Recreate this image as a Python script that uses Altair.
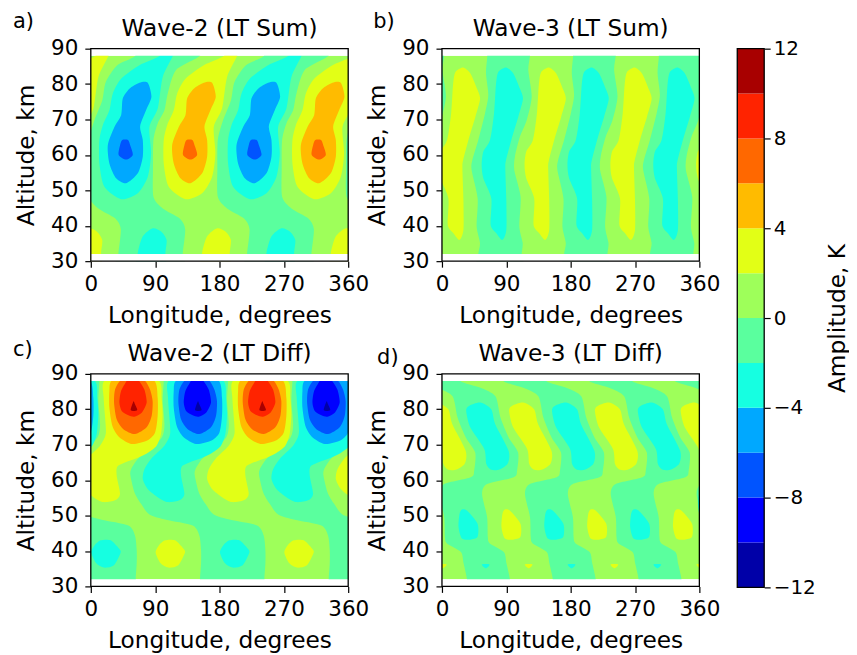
import altair as alt
import pandas as pd

alt.data_transformers.disable_max_rows()

FONT = "DejaVu Sans"
BANDS = ["m12", "m10", "m8", "m6", "m4", "m2", "p0", "p2", "p4", "p6", "p8", "p10"]
BAND_LOW = [-12, -10, -8, -6, -4, -2, 0, 2, 4, 6, 8, 10]
BAND_HIGH = [-10, -8, -6, -4, -2, 0, 2, 4, 6, 8, 10, 12]
COLORS = ["#0000a8", "#0000ff", "#0054ff", "#00a8ff", "#16ffe1", "#5aff9e",
          "#9eff5a", "#e2ff16", "#ffbb00", "#ff6800", "#ff2300", "#a80000"]
MIRROR = {"m2": "p0", "m4": "p2", "m6": "p4", "m8": "p6", "m10": "p8", "m12": "p10"}

# Traced contour outlines (longitude, altitude) of one lobe per panel.
A_ZERO = [(62, 91.4), (62, 87.9), (37, 85.3), (21, 80.6), (16, 75.4), (5, 69.8), (-2.4, 64.2),
          (-3, 56), (-2.4, 48.2), (10.6, 44.9), (34, 42.1), (42, 39), (38.5, 32), (38, 27.6),
          (128.5, 27.6), (128.5, 32), (132, 39), (124, 42.1), (100.6, 44.9), (87.6, 48.2),
          (87, 56), (87.6, 64.2), (93.6, 68.9), (103, 72.6), (107.6, 77.3), (119, 83.9),
          (152, 87.9), (152, 91.4)]
A_TWO = [(100.6, 90.5), (96, 87.9), (68, 85.3), (42.4, 81.5), (30.7, 77.3), (26, 72.6), (16.8, 68.4),
         (12, 64.2), (12, 57.6), (19, 51), (42.4, 47.5), (65.7, 49.2), (79.6, 53.8), (84.3, 60.4),
         (82, 67.9), (93.6, 73.1), (100.6, 82), (114.6, 87.9), (117, 90.5)]
A_TWO_LOW = [(65.7, 32.3), (72.7, 37), (86.6, 39.3), (98.3, 38.4), (106, 36), (104.3, 32.3),
             (104, 27), (64, 27)]
A_FOUR = [(68, 80.4), (79.6, 80.4), (84.8, 76.4), (77.3, 72.6), (69, 68.1), (72.7, 64.2), (72.7, 59.5),
          (65.7, 54.8), (49.4, 52), (35.4, 53.4), (26, 57.6), (23.8, 62.8), (33, 67.9), (42.4, 71.2),
          (44.7, 75.9), (54, 78.7)]
A_SIX = [(44, 64.2), (52, 64.2), (55, 62.8), (58.7, 60), (49.4, 58.7), (39, 60), (41, 62.8)]

B_ZERO = [(63.4, 91.4), (63.4, 87.9), (61.6, 83), (64.8, 76.9), (60.2, 71.7), (50.8, 64.2), (42.4, 58.5),
          (41.5, 55.7), (49.9, 47.7), (48.5, 39.8), (53.2, 35.1), (50.8, 32), (50.8, 27.6),
          (111.5, 27.6), (111.5, 32), (112.9, 35.1), (108.2, 39.8), (110, 48.2), (101.2, 55.7),
          (102, 59.5), (109, 65.1), (118.5, 69.8), (125.5, 76.4), (120.8, 83.9), (123, 87.9), (123, 91.4)]
B_TWO = [(89.6, 84.7), (99.8, 83), (108, 79.2), (113.3, 75.9), (106.8, 70.8), (97.5, 64.6), (89.6, 58.5),
         (88.6, 56.2), (90, 47.3), (90, 38.8), (84.4, 36), (76, 37.9), (68.1, 40.2), (69, 47.7),
         (57.8, 53.4), (55.5, 57.2), (57.8, 60.9), (67.2, 64.2), (72.8, 71.7), (75.6, 80.1), (78.8, 83.4)]

C_ZERO = [(102, 91.7), (102, 88.1), (100.6, 82.3), (103, 75.8), (99.7, 72.2), (82, 68.5), (65.7, 66),
          (56.4, 63.1), (55.4, 61.3), (61, 56.6), (70.3, 53.3), (82, 50.3), (105.3, 48.8), (142.5, 47.2),
          (151.8, 44.4), (154.2, 40.2), (154.2, 36.5), (152.8, 32.1), (152.8, 28),
          (242.8, 28), (242.8, 32.1), (244.2, 36.5), (244.2, 40.2), (241.8, 44.4), (232.5, 47.2),
          (195.3, 48.8), (172, 50.3), (160.3, 53.3), (151, 56.6), (145.4, 61.3), (146.4, 63.1),
          (155.7, 66), (172, 68.5), (189.7, 72.2), (193, 75.8), (190.6, 82.3), (192, 88.1), (192, 91.7)]
C_TWO = [(109, 88.1), (108, 83.3), (110, 77.7), (110.9, 73), (102.9, 69.7), (84.3, 66), (75, 63.1),
         (72.7, 60.3), (79.6, 57.5), (93.6, 55.2), (107.6, 53.8), (123.9, 54.3), (130.9, 56.1),
         (126.2, 61.3), (128.6, 64.1), (156.5, 66.4), (170.5, 67.8), (182, 69.7), (188.2, 73),
         (190.5, 78.6), (189, 83.3), (185.4, 88.1), (147.2, 91.2)]
C_TWO_LOW = [(193.8, 43), (207.7, 43), (219.4, 40.7), (221.7, 39.5), (212.4, 36), (198.4, 35.3),
             (187.7, 36.5), (180.7, 39.5), (185.4, 41.6)]
C_FOUR = [(119.2, 88.1), (116, 85.1), (116, 80.5), (120.2, 75.3), (129.5, 72.2), (147.2, 70.2),
          (168.1, 71.1), (179.8, 73.4), (183.5, 78.1), (183.5, 83.3), (178.9, 88.1), (147.2, 91.2)]
C_SIX = [(130.9, 88.1), (123.9, 85.6), (122.5, 81.9), (126.2, 77.2), (135.5, 74.4), (151.8, 73),
         (168.1, 74.9), (175.1, 78.1), (176.5, 82.3), (172.8, 85.6), (165.8, 88.1), (147.2, 91.2)]
C_EIGHT = [(140.2, 88.1), (132.3, 85.2), (130, 81.9), (133.2, 79.5), (142.5, 78.3), (150.9, 77.9),
           (161.2, 79), (168.1, 81.9), (164.9, 85.6), (157.4, 88.1), (147.2, 91.2)]
C_TEN = [(145.8, 79.8), (148, 81.4), (150, 82.3), (151.8, 81.4), (155, 79.8), (150, 79.5)]

D_ZERO = [(85.8, 91.7), (85.8, 88), (113.8, 86.1), (134.8, 83.7), (141.8, 77.7), (153.5, 72), (166.5, 67.8),
          (165.1, 62.7), (160.4, 60.8), (123.1, 58.9), (116.1, 56.1), (123.1, 49.6), (124.1, 44),
          (126.9, 42.1), (146.5, 39.7), (150.2, 36.5), (154.9, 32.1), (154.9, 28),
          (214.9, 28), (214.9, 32.1), (210.2, 36.5), (206.5, 39.7), (186.9, 42.1), (184.1, 44),
          (183.1, 49.6), (176.1, 56.1), (183.1, 58.9), (220.4, 60.8), (225.1, 62.7), (226.5, 67.8),
          (213.5, 72), (201.8, 77.7), (194.8, 83.7), (173.8, 86.1), (145.8, 88), (145.8, 91.7)]
D_TWO_UP = [(157.2, 80.9), (173.5, 81.9), (188.9, 80), (194.5, 75.8), (213.2, 68.3), (211.8, 64.6),
            (199.2, 62.9), (187.5, 63.1), (181.9, 64.6), (179.1, 68.8), (159.5, 74.9), (153.9, 79.5)]
D_TWO_MID = [(147.9, 51.7), (154.9, 51.4), (169.8, 47.7), (169.8, 44), (159.5, 43.2), (147.9, 43.5),
             (143.2, 46.8), (144.6, 50.5)]
D_TWO_LOW = [(175.8, 36.2), (186.6, 36.2), (181.4, 35.1)]
D_EDGE = [(362, 57.2), (358.2, 54.5), (358.5, 52), (362, 49)]

# Longitudes at which each traced lobe occurs in the panel, negative and positive.
A_NEG, A_POS = [-180, 0, 180, 360], [-90, 90, 270]
B_NEG, B_POS = [-120, 0, 120, 240], [-60, 60, 180, 300]
C_NEG, C_POS = [-180, 0, 180], [-90, 90, 270]
D_NEG, D_POS = [-120, 0, 120, 240], [-180, -60, 60, 180]

PANEL_A = [(A_ZERO, "m2", A_NEG, []), (A_TWO, "m4", A_NEG, A_POS), (A_TWO_LOW, "m4", A_NEG, A_POS),
           (A_FOUR, "m6", A_NEG, A_POS), (A_SIX, "m8", A_NEG, A_POS)]
PANEL_B = [(B_ZERO, "m2", B_NEG, []), (B_TWO, "m4", B_NEG, B_POS)]
PANEL_C = [(C_ZERO, "m2", C_NEG, []), (C_TWO, "m4", C_NEG, C_POS), (C_TWO_LOW, "m4", C_NEG, C_POS),
           (C_FOUR, "m6", C_NEG, C_POS), (C_SIX, "m8", C_NEG, C_POS), (C_EIGHT, "m10", C_NEG, C_POS),
           (C_TEN, "m12", C_NEG, C_POS)]
PANEL_D = [(D_ZERO, "m2", D_NEG, []), (D_TWO_UP, "m4", D_NEG, D_POS), (D_TWO_MID, "m4", D_NEG, D_POS),
           (D_TWO_LOW, "m4", D_NEG, D_POS), (D_EDGE, "m4", [0], [])]

LON_TICKS = [0, 90, 180, 270, 360]
ALT_TICKS = [30, 40, 50, 60, 70, 80, 90]
CBAR_TICKS = [-12, -8, -4, 0, 4, 8, 12]
FILL_BOTTOM, FILL_TOP = 32, 88
ALT_MIN, ALT_MAX = 30, 90
LON_MIN, LON_MAX = 0, 360

X_SCALE = alt.Scale(domain=[LON_MIN, LON_MAX], nice=False, zero=False)
Y_SCALE = alt.Scale(domain=[ALT_MIN, ALT_MAX], nice=False, zero=False)
FILL_SCALE = alt.Scale(domain=BANDS, range=COLORS)
TICK_FONT, LABEL_FONT = 21.5, 23.3
AXIS_STYLE = dict(grid=False, domain=False, tickSize=6, tickWidth=1.2, tickColor="black",
                  labelFontSize=TICK_FONT, titleFontSize=LABEL_FONT, labelColor="black", titleColor="black",
                  labelFont=FONT, titleFont=FONT, titleFontWeight="normal", labelFlush=False)
X_AXIS = alt.Axis(values=LON_TICKS, title="Longitude, degrees", labelPadding=6, titlePadding=10, **AXIS_STYLE)
Y_AXIS = alt.Axis(values=ALT_TICKS, title="Altitude, km", labelPadding=7, titlePadding=12, **AXIS_STYLE)


def contour_table(panel):
    rows = []
    poly = 0
    for shape, band, neg, pos in panel:
        for phases, name in ((neg, band), (pos, MIRROR[band])):
            for phase in phases:
                for i, (lon, h) in enumerate(shape):
                    rows.append({"poly": poly, "i": i, "lon": lon + phase, "alt": h, "band": name})
                poly += 1
    return pd.DataFrame(rows)


def rect_layer(x0, x1, y0, y1, **mark):
    df = pd.DataFrame({"x0": [x0], "x1": [x1], "y0": [y0], "y1": [y1]})
    return alt.Chart(df).mark_rect(**mark).encode(
        x=alt.X("x0:Q", scale=X_SCALE, axis=X_AXIS), x2="x1:Q",
        y=alt.Y("y0:Q", scale=Y_SCALE, axis=Y_AXIS), y2="y1:Q")


def text_layer(text, size, px, py, align):
    return alt.Chart(pd.DataFrame({"t": [text]})).mark_text(
        font=FONT, fontSize=size, align=align, baseline="middle", color="black"
    ).encode(x=alt.value(px), y=alt.value(py), text="t:N")


def panel(shapes, title, tag, tag_x, tag_y):
    lines = alt.Chart(contour_table(shapes)).mark_line(
        interpolate="cardinal-closed", tension=0.25, strokeWidth=0, clip=True
    ).encode(
        x=alt.X("lon:Q", scale=X_SCALE, axis=X_AXIS),
        y=alt.Y("alt:Q", scale=Y_SCALE, axis=Y_AXIS),
        fill=alt.Fill("band:N", scale=FILL_SCALE, legend=None),
        detail="poly:N", order="i:Q")
    base = rect_layer(LON_MIN, LON_MAX, FILL_BOTTOM, FILL_TOP, color=COLORS[6])
    top_mask = rect_layer(LON_MIN, LON_MAX, FILL_TOP, ALT_MAX, color="white")
    low_mask = rect_layer(LON_MIN, LON_MAX, ALT_MIN, FILL_BOTTOM, color="white")
    frame = rect_layer(LON_MIN, LON_MAX, ALT_MIN, ALT_MAX, filled=False, stroke="black", strokeWidth=1.3)
    return alt.layer(
        base, lines, top_mask, low_mask, frame,
        text_layer(tag, 21, tag_x, tag_y, "left"),
        text_layer(title, LABEL_FONT, 129, -20, "center"),
    ).properties(width=258, height=213)


a = panel(PANEL_A, "Wave-2 (LT Sum)", "a)", -78, -27)
b = panel(PANEL_B, "Wave-3 (LT Sum)", "b)", -69, -27)
c = panel(PANEL_C, "Wave-2 (LT Diff)", "c)", -78, -24)
d = panel(PANEL_D, "Wave-3 (LT Diff)", "d)", -65, -16)

cbar_df = pd.DataFrame({"low": BAND_LOW, "high": BAND_HIGH, "band": BANDS})
cbar_y = alt.Scale(domain=[-12, 12], nice=False, zero=False)
CBAR_AXIS = alt.Axis(orient="right", values=CBAR_TICKS, title="Amplitude, K", grid=False, domain=False,
                     tickSize=6, tickWidth=1.2, tickColor="black", labelFontSize=20,
                     titleFontSize=LABEL_FONT, labelColor="black", titleColor="black",
                     labelFont=FONT, titleFont=FONT, titleFontWeight="normal", titleAngle=270,
                     labelPadding=3, titlePadding=34, labelFlush=False)
cbar_rects = alt.Chart(cbar_df).mark_rect().encode(
    x=alt.value(0), x2=alt.value(27),
    y=alt.Y("low:Q", scale=cbar_y, axis=CBAR_AXIS), y2="high:Q",
    fill=alt.Fill("band:N", scale=FILL_SCALE, legend=None))
cbar_frame = alt.Chart(pd.DataFrame({"low": [-12], "high": [12]})).mark_rect(
    filled=False, stroke="black", strokeWidth=1.3
).encode(x=alt.value(0), x2=alt.value(27), y=alt.Y("low:Q", scale=cbar_y, axis=CBAR_AXIS), y2="high:Q")
cbar = alt.layer(cbar_rects, cbar_frame).properties(width=27, height=540)

grid = alt.vconcat(alt.hconcat(a, b, spacing=-4), alt.hconcat(c, d, spacing=-4), spacing=12)
chart = alt.hconcat(grid, cbar, spacing=16).properties(
    padding={"left": 5, "top": 2, "right": 0, "bottom": 0}
).configure_view(stroke=None)

chart.save("out.html", embed_options={"renderer": "svg", "actions": False})
